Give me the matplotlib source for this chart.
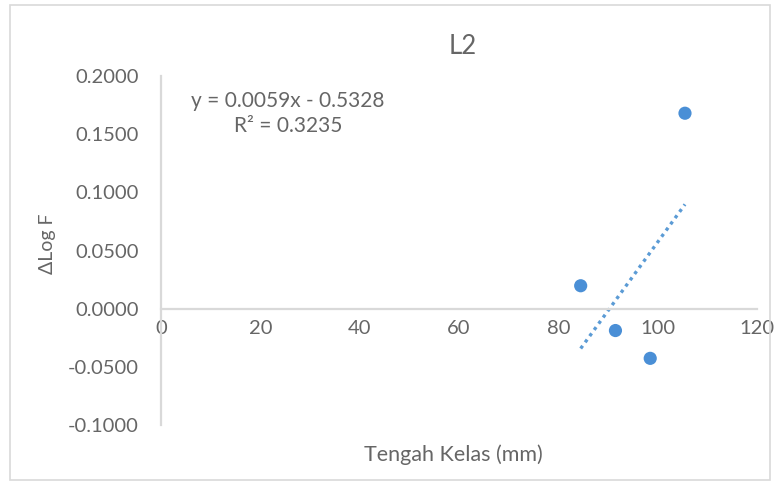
import numpy as np
import matplotlib
matplotlib.use('Agg')
import matplotlib.pyplot as plt
from matplotlib.patches import Rectangle

plt.rcParams['font.family'] = ['Lato', 'DejaVu Sans']

# data
tengah_kelas = [84.5, 91.5, 98.5, 105.5]
delta_log_f = [0.0197, -0.0188, -0.0427, 0.1680]
slope = 0.0059
intercept = -0.5328
r2 = 0.3235

x_ticks = [0, 20, 40, 60, 80, 100, 120]
y_ticks = [-0.1, -0.05, 0.0, 0.05, 0.1, 0.15, 0.2]

grey = '#666666'
axis_grey = '#D9D9D9'
blue = '#4A8FD6'

fig = plt.figure(figsize=(7.78, 4.83), dpi=100)
W, H = 778, 483

# chart border
fig.patches.append(Rectangle((10 / W, 1 - 480 / H), 760 / W, 475 / H,
                             transform=fig.transFigure, fill=False,
                             edgecolor='#D9D9D9', linewidth=1.2))

ax = fig.add_axes([161 / W, 1 - 425 / H, 596 / W, 349 / H])

ax.scatter(tengah_kelas, delta_log_f, s=90, color=blue, zorder=3,
           edgecolors='none')

# linear trendline
xt = np.array([min(tengah_kelas), max(tengah_kelas)])
ax.plot(xt, slope * xt + intercept, linestyle=(0, (1, 1.3)), color='#5B9BD5',
        linewidth=2.4, zorder=2)

ax.set_xlim(0, 120)
ax.set_ylim(-0.1, 0.2)
ax.set_xticks(x_ticks)
ax.set_yticks(y_ticks)
ax.set_xticklabels([str(t) for t in x_ticks])
ax.set_yticklabels(['%.4f' % t for t in y_ticks])

for s in ['top', 'right']:
    ax.spines[s].set_visible(False)
ax.spines['bottom'].set_position(('data', 0))
ax.spines['bottom'].set_color(axis_grey)
ax.spines['left'].set_color(axis_grey)
ax.spines['bottom'].set_linewidth(1.6)
ax.spines['left'].set_linewidth(1.6)
ax.tick_params(axis='both', length=0, labelsize=14.5, colors=grey)
ax.tick_params(axis='x', pad=8)
ax.tick_params(axis='y', pad=16)

fig.text(463 / W, 1 - 47 / H, 'L2', ha='center', va='center',
         fontsize=18.5, color=grey)
fig.text(288 / W, 1 - 101 / H, 'y = 0.0059x - 0.5328', ha='center',
         va='center', fontsize=15, color=grey)
fig.text(288 / W, 1 - 126 / H, 'R² = %.4f' % r2, ha='center', va='center',
         fontsize=15, color=grey)
fig.text(453 / W, 1 - 455 / H, 'Tengah Kelas (mm)', ha='center',
         va='center', fontsize=15.5, color=grey)
fig.text(48 / W, 1 - 244 / H, 'ΔLog F', ha='center', va='center',
         rotation=90, fontsize=14, color=grey)

fig.savefig('out.png', dpi=100)
